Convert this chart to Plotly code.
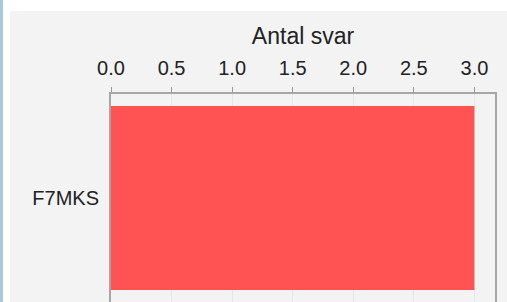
import plotly.graph_objects as go

categories = ["F7MKS"]
values = [3]
tick_vals = [0.0, 0.5, 1.0, 1.5, 2.0, 2.5, 3.0]
tick_text = ["0.0", "0.5", "1.0", "1.5", "2.0", "2.5", "3.0"]
axis_title = "Antal svar"

W, H = 507, 302
L, R, T, B = 111, 12, 94, 0

fig = go.Figure(
    go.Bar(
        x=values,
        y=categories,
        orientation="h",
        marker=dict(color="#ff5353", line=dict(width=0)),
        hoverinfo="skip",
    )
)

pw = W - L - R
ph = H - T - B

fig.update_layout(
    width=W,
    height=H,
    margin=dict(l=L, r=R, t=T, b=B, pad=0),
    paper_bgcolor="white",
    plot_bgcolor="white",
    bargap=0.115,
    showlegend=False,
    font=dict(family="Liberation Sans, Arial, sans-serif", size=20, color="#222222"),
    shapes=[
        dict(type="rect", xref="paper", yref="paper",
             x0=-L / pw, x1=(3 - L) / pw,
             y0=-0.1, y1=1 + T / ph + 0.1,
             fillcolor="#a9c9e3", line=dict(width=0), layer="below"),
        dict(type="rect", xref="paper", yref="paper",
             x0=(10 - L) / pw, x1=1 + R / pw + 0.1,
             y0=-0.1, y1=1 + (T - 11) / ph,
             fillcolor="#f3f3f3", line=dict(width=0), layer="below"),
    ],
)

fig.update_xaxes(
    side="top",
    range=[0, 3.17],
    tickvals=tick_vals,
    ticktext=tick_text,
    ticks="outside",
    ticklen=5,
    tickwidth=1,
    tickcolor="#999999",
    ticklabelstandoff=4,
    tickfont=dict(size=20),
    showgrid=True,
    gridcolor="#e6e6e6",
    gridwidth=1,
    showline=True,
    linecolor="#a6a6a6",
    linewidth=2,
    mirror=False,
    zeroline=False,
    title=dict(text=axis_title, font=dict(size=23), standoff=6),
    fixedrange=True,
)

fig.update_yaxes(
    ticks="",
    showgrid=False,
    showline=True,
    linecolor="#a6a6a6",
    linewidth=2,
    mirror=True,
    ticklabelstandoff=6,
    tickfont=dict(size=20),
    fixedrange=True,
)

fig.write_html(
    "out.html",
    config=dict(displayModeBar=False),
    post_script="document.body.style.margin='0';document.body.style.overflow='hidden';",
)
